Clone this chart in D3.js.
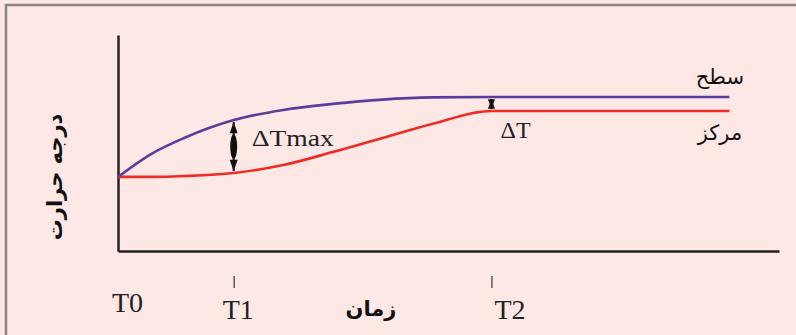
<!DOCTYPE html>
<html><head><meta charset="utf-8">
<script src="https://cdn.jsdelivr.net/npm/d3@7"></script>
<style>html,body{margin:0;padding:0;background:#fde8e6;}svg{display:block;}</style>
</head><body>
<svg id="chart" width="796" height="335"></svg>
<script>
// ---- data ----
const times   = [0, 5, 10, 17.5, 25, 32.5, 40, 47.5, 56.5, 65, 92.5];
const surface = [3.43, 4.49, 5.23, 6.06, 6.53, 6.81, 7.01, 7.11, 7.13, 7.13, 7.13];
const center  = [3.43, 3.43, 3.47, 3.61, 3.98, 4.58, 5.23, 5.88, 6.48, 6.48, 6.48];
const tickTimes  = [0, 17.5, 56.5];
const tickLabels = ["T0", "T1", "T2"];
const seriesNames = ["سطح", "مرکز"];
const xTitle = "زمان";
const yTitle = "درجه حرارت";
const deltaSym = "\u0394";
const deltaMaxLabel = "Tmax";
const deltaLabel = "T";

// ---- layout ----
const serif = "'Liberation Serif', 'Times New Roman', Times, serif";
const svg = d3.select("#chart");
const x = d3.scaleLinear().domain([0, 100]).range([118, 779]);
const y = d3.scaleLinear().domain([0, 10]).range([251, 35]);

svg.append("rect").attr("width",796).attr("height",335).attr("fill","#fde8e6");
svg.append("path").attr("d","M6,340V5H800").attr("fill","none")
  .attr("stroke","#8d8585").attr("stroke-width",2.5);

// axes
const gy = svg.append("g").attr("transform",`translate(${x(0)},0)`)
  .call(d3.axisLeft(y).ticks(0).tickSizeOuter(0));
const gx = svg.append("g").attr("transform",`translate(0,${y(0)})`)
  .call(d3.axisBottom(x).ticks(0).tickSizeOuter(0));
[gy,gx].forEach(g=>g.select(".domain").attr("stroke","#222").attr("stroke-width",2.5));

// detached tick marks + labels
const gt = svg.append("g").attr("transform","translate(0,276)")
  .call(d3.axisBottom(x).tickValues(tickTimes).tickFormat((d,i)=>tickLabels[i]).tickSize(12));
gt.select(".domain").remove();
gt.selectAll(".tick line").attr("stroke","#444").attr("stroke-width",1.3)
  .filter((d,i)=>i===0).remove();
const lblOff = [{dx:9,y:36},{dx:4,y:43},{dx:18,y:43}];
gt.selectAll(".tick text")
  .attr("font-family",serif).attr("font-size",28)
  .attr("fill","#222").attr("dy",0)
  .attr("x",(d,i)=>lblOff[i].dx).attr("y",(d,i)=>lblOff[i].y);

// lines
const line = d3.line().x((d,i)=>x(times[i])).y(d=>y(d)).curve(d3.curveMonotoneX);
svg.append("path").datum(center).attr("d",line).attr("fill","none")
  .attr("stroke","#ee2b25").attr("stroke-width",2.6);
svg.append("path").datum(surface).attr("d",line).attr("fill","none")
  .attr("stroke","#5b3c9c").attr("stroke-width",2.6);

// double arrows
function dblArrow(t, vTop, vBot, head, bulge){
  const cx = x(t), y1 = y(vTop)+2, y2 = y(vBot)-2;
  const g = svg.append("g").attr("fill","#111").attr("stroke","#111");
  g.append("line").attr("x1",cx).attr("x2",cx).attr("y1",y1).attr("y2",y2).attr("stroke-width",2);
  g.append("path").attr("stroke","none")
    .attr("d",`M${cx},${y1}L${cx-head/2},${y1+head*1.4}L${cx+head/2},${y1+head*1.4}Z`);
  g.append("path").attr("stroke","none")
    .attr("d",`M${cx},${y2}L${cx-head/2},${y2-head*1.4}L${cx+head/2},${y2-head*1.4}Z`);
  if (bulge) g.append("ellipse").attr("stroke","none").attr("cx",cx).attr("cy",(y1+y2)/2)
    .attr("rx",bulge).attr("ry",(y2-y1)/4);
}
const i1 = times.indexOf(tickTimes[1]), i2 = times.indexOf(tickTimes[2]);
dblArrow(tickTimes[1], surface[i1], center[i1], 8, 3.5);
dblArrow(tickTimes[2], surface[i2], center[i2], 7, 0);

// annotation labels (Greek delta + serif text)
function deltaText(x0, y0, rest, size, sx){
  const t = svg.append("text").attr("transform",`translate(${x0},${y0}) scale(${sx},1)`)
    .attr("font-family",serif).attr("font-size",size).attr("fill","#222");
  t.append("tspan").text(deltaSym);
  t.append("tspan").attr("font-family",serif).text(rest);
}
deltaText(x(tickTimes[1])+18, 146, deltaMaxLabel, 24, 1.15);
deltaText(x(tickTimes[2])+9, 138, deltaLabel, 24, 1.0);

// series names
const last = times.length-1;
svg.append("text").attr("x",720).attr("y",y(surface[last])-13)
  .attr("text-anchor","middle").attr("font-family","'DejaVu Sans'").attr("font-size",21)
  .attr("fill","#111").text(seriesNames[0]);
svg.append("text").attr("x",720).attr("y",y(center[last])+29)
  .attr("text-anchor","middle").attr("font-family","'DejaVu Sans'").attr("font-size",21)
  .attr("fill","#111").text(seriesNames[1]);

// axis titles
svg.append("text").attr("x",371).attr("y",316).attr("text-anchor","middle")
  .attr("font-family","'DejaVu Sans'").attr("font-weight","bold").attr("font-size",21)
  .attr("fill","#111").text(xTitle);
svg.append("text").attr("transform","translate(62,177) rotate(-90)").attr("text-anchor","middle")
  .attr("font-family","'DejaVu Sans'").attr("font-weight","bold").attr("font-size",21)
  .attr("fill","#111").text(yTitle);
</script>
</body></html>
